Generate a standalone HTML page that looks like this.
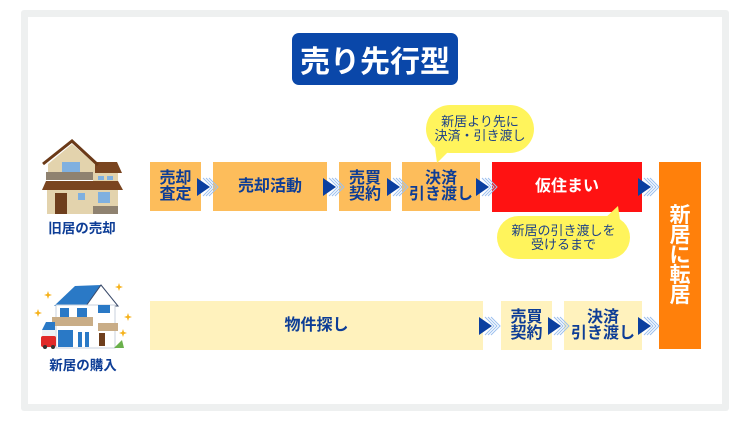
<!DOCTYPE html>
<html><head><meta charset="utf-8">
<style>
*{margin:0;padding:0;box-sizing:border-box}
body{width:750px;height:421px;background:#fff;position:relative;overflow:hidden;font-family:"Liberation Sans","Noto Sans CJK JP",sans-serif;font-weight:bold}
.frame{position:absolute;left:21px;top:10px;width:708px;height:401px;background:#eef0f0;border-radius:3px}
.inner{position:absolute;left:28px;top:17px;width:694px;height:387px;background:#fff}
.box{position:absolute;display:flex;align-items:center;justify-content:center;text-align:center;color:#0d3d96;font-size:16px;line-height:16px}
.o{background:#fdbd5b}
.y{background:#fff2bd}
.title{position:absolute;left:292px;top:33px;width:166px;height:52px;background:#0a47a9;border-radius:7px;color:#fff;font-size:30px;display:flex;align-items:center;justify-content:center;letter-spacing:0px}
.bub{position:absolute;background:#fff45c;color:#1b3f88;font-size:13px;line-height:14px;font-weight:normal;text-align:center;display:flex;align-items:center;justify-content:center}
.lbl{position:absolute;color:#0d3d96;font-size:13.5px;text-align:center;width:90px}
svg{position:absolute;left:0;top:0}
</style></head><body>
<div class="frame"></div>
<div class="inner"></div>
<div class="title">売り先行型</div>

<!-- row 1 -->
<div class="box o" style="left:150px;top:162px;width:51px;height:49px">売却<br>査定</div>
<div class="box o" style="left:213px;top:162px;width:114px;height:49px">売却活動</div>
<div class="box o" style="left:339px;top:162px;width:52px;height:49px">売買<br>契約</div>
<div class="box o" style="left:402px;top:162px;width:78px;height:49px">決済<br>引き渡し</div>
<div class="box" style="left:492px;top:162px;width:150px;height:50px;background:#ff1212;color:#fff">仮住まい</div>
<div class="box" style="left:659px;top:162px;width:42px;height:187px;background:#ff800b;color:#fff;font-size:21px;line-height:20px">新<br>居<br>に<br>転<br>居</div>

<!-- row 2 -->
<div class="box y" style="left:150px;top:301px;width:333px;height:49px">物件探し</div>
<div class="box y" style="left:501px;top:301px;width:51px;height:49px">売買<br>契約</div>
<div class="box y" style="left:564px;top:301px;width:78px;height:49px">決済<br>引き渡し</div>

<!-- bubbles -->
<div class="bub" style="left:426px;top:105px;width:108px;height:48px;border-radius:24px">新居より先に<br>決済・引き渡し</div>
<div class="bub" style="left:497px;top:216px;width:133px;height:43px;border-radius:22px">新居の引き渡しを<br>受けるまで</div>

<div class="lbl" style="left:37px;top:217px">旧居の売却</div>
<div class="lbl" style="left:38px;top:354px">新居の購入</div>

<svg width="750" height="421" viewBox="0 0 750 421">
<defs>
<g id="ar">
<polyline points="6,-9 15,0 6,9" fill="none" stroke="#9cc0ee" stroke-width="1"/>
<polyline points="9,-9 18,0 9,9" fill="none" stroke="#9cc0ee" stroke-width="1"/>
<polyline points="12,-9 21,0 12,9" fill="none" stroke="#9cc0ee" stroke-width="1"/>
<polygon points="0,-9 13,0 0,9" fill="#0b3fa0"/>
</g>
</defs>
<use href="#ar" x="197" y="187"/>
<use href="#ar" x="323" y="187"/>
<use href="#ar" x="387" y="187"/>
<use href="#ar" x="476" y="187"/>
<use href="#ar" x="638" y="187"/>
<use href="#ar" x="479" y="326"/>
<use href="#ar" x="548" y="326"/>
<use href="#ar" x="638" y="326"/>

<!-- bubble tails -->
<polygon points="435,148 437,163 452,148" fill="#fff45c"/>
<polygon points="603,220 618,206 620,220" fill="#fff45c"/>

<!-- old house -->
<polygon points="93,162 117,162 122,173 93,173" fill="#7a4520"/>
<polygon points="48,164 72,144 95,164 95,174 48,174" fill="#e3d3ad"/>
<polyline points="43,164 72,141 98,165" fill="none" stroke="#6b3a18" stroke-width="3"/>
<rect x="62" y="162" width="18" height="10" fill="#7fb0e0"/>
<rect x="46" y="172" width="47" height="8" fill="#8f8270"/>
<rect x="93" y="173" width="25" height="9" fill="#e3d3ad"/>
<rect x="98" y="176" width="6" height="4" fill="#7fb0e0"/>
<rect x="107" y="176" width="6" height="4" fill="#7fb0e0"/>
<polygon points="46,181 118,181 123,190 42,190" fill="#7a4520"/>
<rect x="47" y="190" width="71" height="24" fill="#e3d3ad"/>
<rect x="55" y="193" width="12" height="21" fill="#6e3e1c"/>
<rect x="78" y="193" width="7" height="7" fill="#7fb0e0"/>
<rect x="98" y="192" width="12" height="11" fill="#7fb0e0"/>
<rect x="93" y="206" width="25" height="8" fill="#8f8270"/>

<!-- new house -->
<polygon points="54,306 75,286 101,285 90,306" fill="#2a79c6"/>
<polygon points="101,285 118,306 86,306" fill="#fff" stroke="#3a4a6a" stroke-width="1"/>
<rect x="56" y="305" width="59" height="43" fill="#fff" stroke="#c9d2dc" stroke-width="1"/>
<rect x="60" y="308" width="9" height="9" fill="#2a79c6"/>
<rect x="77" y="308" width="10" height="9" fill="#2a79c6"/>
<rect x="98" y="305" width="12" height="8" fill="#2a79c6"/>
<rect x="52" y="317" width="41" height="9" fill="#c9ad87"/>
<rect x="98" y="323" width="20" height="8" fill="#c9ad87"/>
<rect x="58" y="330" width="15" height="17" fill="#2a79c6"/>
<rect x="78" y="332" width="4" height="15" fill="#2a79c6"/>
<rect x="85" y="332" width="4" height="15" fill="#2a79c6"/>
<rect x="99" y="333" width="6" height="13" fill="#6e3e1c"/>
<polygon points="114,348 122,340 124,348" fill="#6ab04c"/>
<polygon points="42,330 46,322 55,322 55,330" fill="#2a79c6"/>
<rect x="42" y="330" width="13" height="18" fill="#eef2f6"/>
<rect x="41" y="336" width="15" height="11" rx="2" fill="#e02a2a"/>
<circle cx="45" cy="347" r="2" fill="#333"/>
<circle cx="53" cy="347" r="2" fill="#333"/>
<g fill="#f6b21b">
<polygon points="48,291 49,294 52,295 49,296 48,299 47,296 44,295 47,294"/>
<polygon points="119,283 120,286 123,287 120,288 119,291 118,288 115,287 118,286"/>
<polygon points="38,309 39,312 42,313 39,314 38,317 37,314 34,313 37,312"/>
<polygon points="128,313 129,316 132,317 129,318 128,321 127,318 124,317 127,316"/>
<polygon points="123,329 124,332 127,333 124,334 123,337 122,334 119,333 122,332"/>
</g>
</svg>
</body></html>
